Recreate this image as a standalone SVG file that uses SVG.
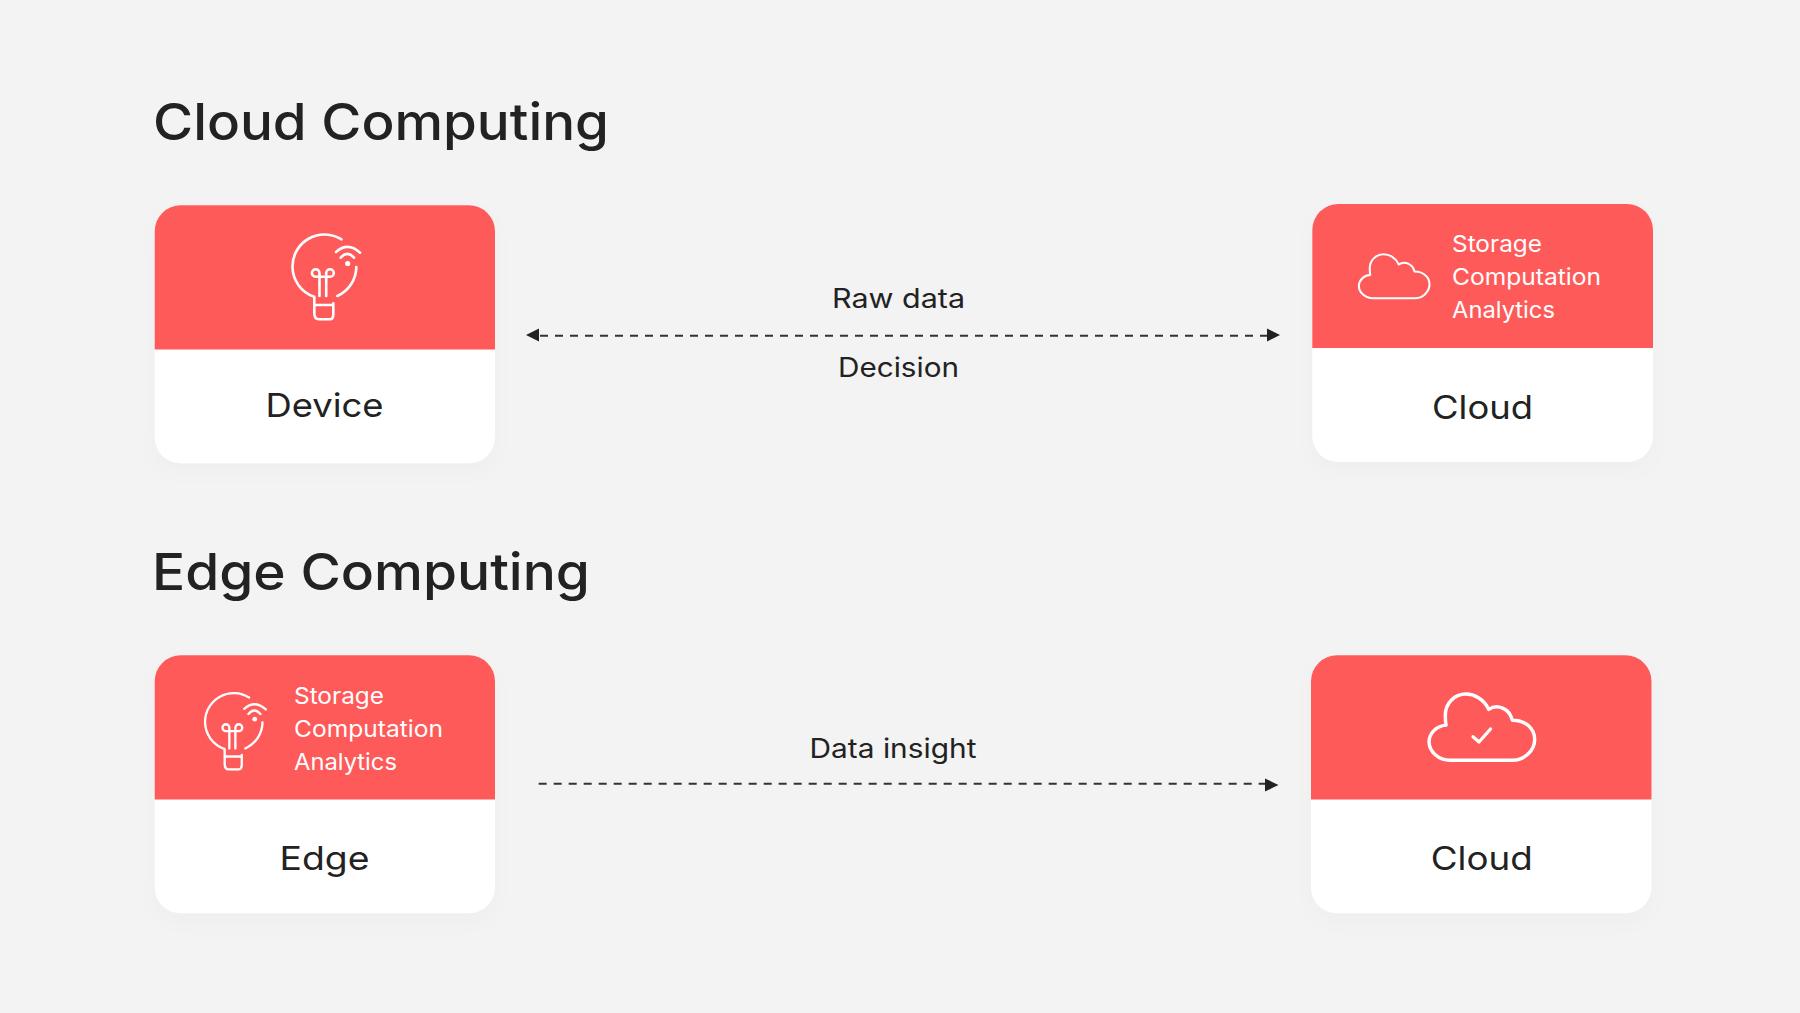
<svg xmlns="http://www.w3.org/2000/svg" xmlns:xlink="http://www.w3.org/1999/xlink" width="1800" height="1013" viewBox="0 0 1800 1013">
<style>
text{font-family:"Inter","Liberation Sans",sans-serif;fill:#222}
.title{font-size:51px;font-weight:450}
.name{font-size:33px;font-weight:400}
.edge{font-size:27px}
.sub{font-size:23px;fill:#fff}
.card{fill:#fff;filter:url(#sh)}
.head{fill:#FF5A5A}
.ic{fill:none;stroke:#fff;stroke-linecap:round;stroke-linejoin:round}
.dash{fill:none;stroke:#333;stroke-width:2;stroke-dasharray:8 7}
.tip{fill:#222}
</style>
<defs>
<filter id="sh" x="-15%" y="-15%" width="130%" height="135%"><feDropShadow dx="0" dy="8" stdDeviation="10" flood-color="#000" flood-opacity="0.02"/></filter>
<g id="bulb">
<path class="ic" stroke-width="2.6" d="M341.500 239.400A32 32 0 0 0 292.500 266.500A32 32 0 0 0 314.300 296.800V313C314.300 317 316 319.300 319 319.300H330C332 319.300 333.300 317 333.300 314V303.300M314.300 305H333.300"/>
<path class="ic" stroke-width="2.6" d="M356.300 267A32 32 0 0 1 337.300 296"/>
<path class="ic" stroke-width="2.6" d="M336 252Q347.800 241.500 360 252.700M340.700 257.700Q347.300 250 354 257.700"/>
<circle cx="347.700" cy="263.500" r="2.600" fill="#fff"/>
<path class="ic" stroke-width="2.6" d="M319.500 296V273A3.800 3.800 0 1 0 315.700 276.800H330A3.800 3.800 0 1 0 326.200 273V296"/>
</g>
<path id="cloud" class="ic" d="M1450 760.700H1513.300C1525 760.700 1535.700 751 1535.700 739.500C1535.700 728 1526 720 1513 720C1510 708 1498 703 1489 709C1484 698 1474 693.500 1466 693.500C1454 693.500 1445 703 1445 715C1445 718 1445 721 1445.700 725C1435 726 1428.500 734 1428.500 742C1428.500 752 1438 760.700 1450 760.700Z"/>
</defs>
<rect width="1800" height="1013" fill="#F3F3F3"/>
<text class="title" x="153" y="140" textLength="456" lengthAdjust="spacingAndGlyphs">Cloud Computing</text>
<text class="title" x="152" y="590" textLength="438" lengthAdjust="spacingAndGlyphs">Edge Computing</text>
<g id="connectors">
<line class="dash" x1="540" y1="335.700" x2="1267" y2="335.700"/>
<path class="tip" d="M526 335L539 328.500V341.500Z"/>
<path class="tip" d="M1280 335L1267 328.500V341.500Z"/>
<line class="dash" x1="538.700" y1="783.700" x2="1265" y2="783.700"/>
<path class="tip" d="M1278.500 785L1265 778.500V791.500Z"/>
<text class="edge" x="832" y="308" textLength="133" lengthAdjust="spacingAndGlyphs">Raw data</text>
<text class="edge" x="838" y="377" textLength="121" lengthAdjust="spacingAndGlyphs">Decision</text>
<text class="edge" x="809.500" y="758" textLength="167" lengthAdjust="spacingAndGlyphs">Data insight</text>
</g>
<g id="device">
<rect class="card" x="154.700" y="205.300" width="340.300" height="258" rx="26"/>
<path class="head" d="M154.700 349.500V231.300A26 26 0 0 1 180.700 205.300H469A26 26 0 0 1 495 231.300V349.500Z"/>
<use xlink:href="#bulb" href="#bulb"/>
<text class="name" x="265.500" y="417" textLength="118" lengthAdjust="spacingAndGlyphs">Device</text>
</g>
<g id="cloud-top">
<rect class="card" x="1312.300" y="204" width="340.700" height="258" rx="26"/>
<path class="head" d="M1312.300 348V230A26 26 0 0 1 1338.300 204H1627A26 26 0 0 1 1653 230V348Z"/>
<use xlink:href="#cloud" href="#cloud" transform="translate(417.500 -200) scale(0.659 0.655)" stroke-width="3.100"/>
<text class="sub" x="1452" y="252" textLength="90" lengthAdjust="spacingAndGlyphs">Storage</text>
<text class="sub" x="1452" y="285" textLength="149" lengthAdjust="spacingAndGlyphs">Computation</text>
<text class="sub" x="1452" y="318" textLength="103" lengthAdjust="spacingAndGlyphs">Analytics</text>
<text class="name" x="1432" y="419" textLength="101" lengthAdjust="spacingAndGlyphs">Cloud</text>
</g>
<g id="edge">
<rect class="card" x="154.700" y="655.300" width="340.300" height="258" rx="26"/>
<path class="head" d="M154.700 799.500V681.300A26 26 0 0 1 180.700 655.300H469A26 26 0 0 1 495 681.300V799.500Z"/>
<use xlink:href="#bulb" href="#bulb" transform="translate(-58.200 482) scale(0.9)"/>
<text class="sub" x="294" y="704" textLength="90" lengthAdjust="spacingAndGlyphs">Storage</text>
<text class="sub" x="294" y="737" textLength="149" lengthAdjust="spacingAndGlyphs">Computation</text>
<text class="sub" x="294" y="770" textLength="103" lengthAdjust="spacingAndGlyphs">Analytics</text>
<text class="name" x="279.500" y="870" textLength="90" lengthAdjust="spacingAndGlyphs">Edge</text>
</g>
<g id="cloud-bottom">
<rect class="card" x="1311" y="655.300" width="340.500" height="258" rx="26"/>
<path class="head" d="M1311 799.500V681.300A26 26 0 0 1 1337 655.300H1625.500A26 26 0 0 1 1651.500 681.300V799.500Z"/>
<use xlink:href="#cloud" href="#cloud" transform="translate(22 11) scale(0.985)" stroke-width="3.500"/>
<path class="ic" stroke-width="3.300" d="M1473 736.700L1479 742L1490.500 729"/>
<text class="name" x="1430.700" y="870" textLength="102" lengthAdjust="spacingAndGlyphs">Cloud</text>
</g>
</svg>
